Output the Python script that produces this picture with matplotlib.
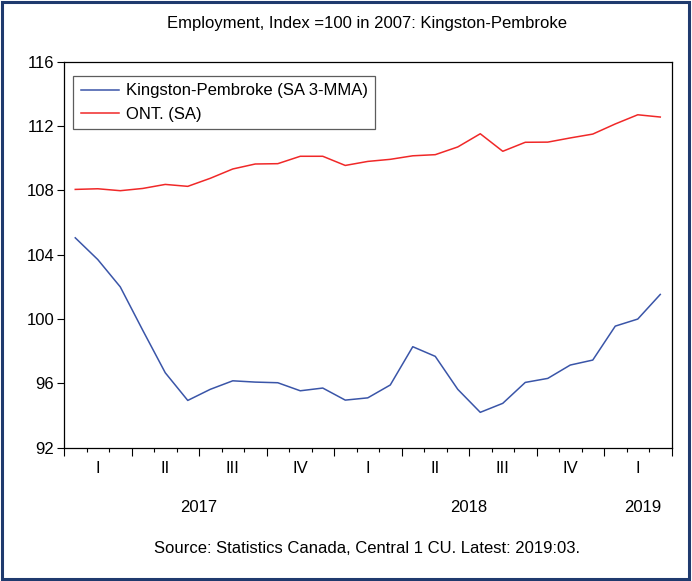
import numpy as np
import matplotlib.pyplot as plt
from matplotlib.patches import Rectangle

plt.rcParams['font.family'] = ['Liberation Sans', 'DejaVu Sans']

# monthly, Jan 2017 .. Mar 2019
months = np.arange(27)
kingston = [105.05, 103.7, 102.0, 99.3, 96.66, 94.94, 95.63, 96.16, 96.08, 96.04,
            95.54, 95.71, 94.96, 95.1, 95.9, 98.28, 97.68, 95.63, 94.2, 94.76,
            96.06, 96.31, 97.14, 97.45, 99.56, 100.0, 101.53]
ontario = [108.06, 108.1, 107.98, 108.12, 108.37, 108.25, 108.75, 109.33, 109.64, 109.66,
           110.12, 110.12, 109.55, 109.8, 109.93, 110.15, 110.22, 110.7, 111.52, 110.43,
           110.99, 111.0, 111.26, 111.5, 112.13, 112.7, 112.56]
quarter_labels = ['I', 'II', 'III', 'IV', 'I', 'II', 'III', 'IV', 'I']
years = ['2017', '2018', '2019']
year_pos = [5.5, 17.5, 25.2]
yticks = [92, 96, 100, 104, 108, 112, 116]

fs = 12

fig = plt.figure(figsize=(6.92, 5.81), dpi=100)
ax = fig.add_axes([0.0925, 0.2294, 0.8779, 0.6644])

ax.plot(months, kingston, color='#3A55A8', lw=1.1, label='Kingston-Pembroke (SA 3-MMA)')
ax.plot(months, ontario, color='#F02828', lw=1.1, label='ONT. (SA)')

ax.set_xlim(-0.5, 26.5)
ax.set_ylim(92, 116)
ax.set_yticks(yticks)
ax.set_yticklabels([str(v) for v in yticks], fontsize=fs)
ax.tick_params(axis='y', direction='out', length=5, width=0.8, pad=2)

ax.set_xticks(np.arange(-0.5, 27, 3))
ax.set_xticks(np.arange(-0.5, 27, 1), minor=True)
ax.set_xticklabels([])
ax.tick_params(axis='x', which='major', direction='out', length=5.5, width=0.8)
ax.tick_params(axis='x', which='minor', direction='out', length=3, width=0.8)

tr = ax.get_xaxis_transform()
for i, q in enumerate(quarter_labels):
    ax.text(1 + 3 * i, -0.055, q, transform=tr, ha='center', va='center', fontsize=fs)
for y, p in zip(years, year_pos):
    ax.text(p, -0.156, y, transform=tr, ha='center', va='center', fontsize=fs)

for s in ax.spines.values():
    s.set_linewidth(0.9)

leg = ax.legend(loc='upper left', bbox_to_anchor=(0.0, 0.987), fontsize=fs,
                frameon=True, fancybox=False, handlelength=2.3, borderpad=0.45,
                labelspacing=0.5, handletextpad=0.4, borderaxespad=0.55)
leg.get_frame().set_edgecolor('#333333')
leg.get_frame().set_linewidth(0.9)

fig.text(0.531, 0.96, 'Employment, Index =100 in 2007: Kingston-Pembroke',
         ha='center', va='center', fontsize=fs)
fig.text(0.531, 0.056, 'Source: Statistics Canada, Central 1 CU. Latest: 2019:03.',
         ha='center', va='center', fontsize=fs)

fig.patches.append(Rectangle((0.003, 0.004), 0.993, 0.992, transform=fig.transFigure,
                             fill=False, edgecolor='#1F3A6E', lw=2.2))

fig.savefig('out.png', dpi=100)
